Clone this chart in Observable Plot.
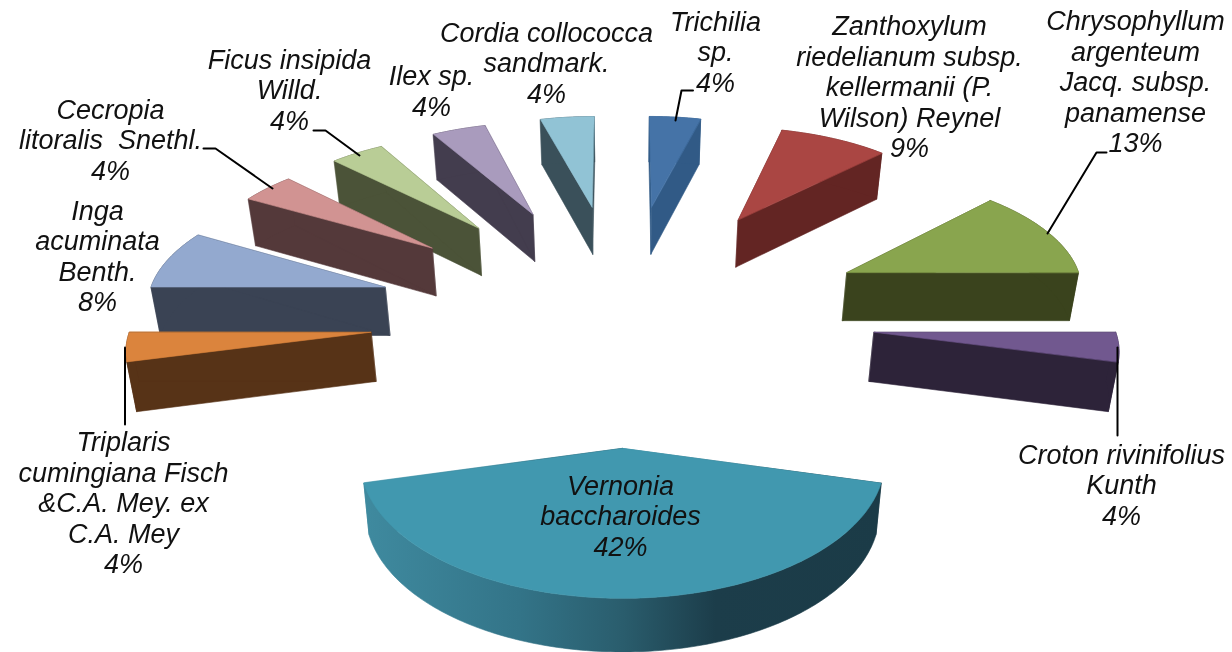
<!DOCTYPE html>
<html>
<head>
<meta charset="utf-8">
<script src="https://cdn.jsdelivr.net/npm/d3@7"></script>
<script src="https://cdn.jsdelivr.net/npm/@observablehq/plot@0.6"></script>
<style>html,body{margin:0;padding:0;background:#fff}svg{display:block;filter:blur(0.4px)}</style>
</head>
<body>
<div id="chart"></div>
<script>
const names = [
  "Trichilia\nsp.",
  "Zanthoxylum\nriedelianum subsp.\nkellermanii (P.\nWilson) Reynel",
  "Chrysophyllum\nargenteum\nJacq. subsp.\npanamense",
  "Croton rivinifolius\nKunth",
  "Vernonia\nbaccharoides",
  "Triplaris\ncumingiana Fisch\n&C.A. Mey. ex\nC.A. Mey",
  "Inga\nacuminata\nBenth.",
  "Cecropia\nlitoralis  Snethl.",
  "Ficus insipida\nWilld.",
  "Ilex sp.",
  "Cordia collococca\nsandmark."
];
const shares = [4, 8.5, 12.5, 4, 42, 4, 8.2, 4.2, 4.2, 4.2, 4.2];
const topColors = ["#4573a7","#aa4643","#89a54e","#71588f","#4198af","#db843d","#93a9cf","#d19392","#b9cd96","#a99bbd","#91c3d5"];
const sideColors = ["#315a86","#632523","#3a431d","#2d2339","url(#vernoniaSide)","#573317","#3a4354","#54393a","#4b5338","#433d4e","#3a505a"];

// Label and leader placement (layout, not data)
const labelX = [715, 909, 1135, 1121, 620, 123, 97, 110, 289, 431, 546];
const labelY = [51, 86, 81, 484, 515, 502, 255, 139, 89, 90, 62];
const leaders = [
  [[692.5,90],[681,90],[675,120]],
  [[1106,152],[1096,152],[1047,233]],
  [[1117,347],[1117,435]],
  [[124.5,347],[124.5,424]],
  [[203,148],[215,148],[272,188]],
  [[313,130],[325,130],[359,155]]
];

// Exploded, perspective-projected pie
const view = {cx: 622, cy: 316.5, A: 251, B: 120.2, k: 0.085, radius: 0.952, depth: 49, shrink: 0.98};
const scaleAt = Y => 1 / (1 + view.k * Y);
const project = (X, Y) => {
  const s = scaleAt(Y);
  return {x: view.cx + view.A * X * s, y: view.cy - view.B * Y * s, s};
};
const lower = p => ({
  x: view.cx + (p.x - view.cx) * view.shrink,
  y: p.y + view.depth * Math.pow(p.s, 0.5)
});
const total = d3.sum(shares);
const rad = d => d * Math.PI / 180;
let acc = 0;
const slices = shares.map((v, i) => {
  const a0 = acc / total * 360; acc += v;
  const a1 = acc / total * 360;
  const mid = (a0 + a1) / 2;
  const ex = Math.sin(rad(mid)), ey = Math.cos(rad(mid));
  const apex = project(ex, ey);
  const rim = d3.range(0, Math.ceil(a1 - a0) + 1).map(t => {
    const a = Math.min(a0 + t, a1);
    return project(ex + view.radius * Math.sin(rad(a)), ey + view.radius * Math.cos(rad(a)));
  });
  return {i, ey, apex, rim};
});

const polygon = (pts, fill, key) => pts.map(p => ({x: p.x, y: p.y, fill, key}));
const marks = [];
marks.push(() => {
  const ns = "http://www.w3.org/2000/svg";
  const defs = document.createElementNS(ns, "defs");
  const g = document.createElementNS(ns, "linearGradient");
  g.setAttribute("id", "vernoniaSide");
  g.setAttribute("x1", "0"); g.setAttribute("x2", "1");
  [["0", "#3f8a9f"], ["0.3", "#337488"], ["0.5", "#2a5d6d"], ["0.68", "#1c3d4a"], ["1", "#1b3b47"]].forEach(([o, c]) => {
    const s = document.createElementNS(ns, "stop");
    s.setAttribute("offset", o); s.setAttribute("stop-color", c);
    g.appendChild(s);
  });
  defs.appendChild(g);
  return defs;
});

// Painter's order: far wedges first
d3.sort(slices, d => -d.ey).forEach(({i, apex, rim}) => {
  const first = rim[0], last = rim[rim.length - 1];
  const faces = [
    polygon([apex, first, lower(first), lower(apex)], sideColors[i], "a"),
    polygon([apex, last, lower(last), lower(apex)], sideColors[i], "b"),
    polygon([...rim, ...rim.map(lower).reverse()], sideColors[i], "c"),
    polygon([apex, ...rim], topColors[i], "t")
  ];
  faces.forEach(f => {
    const color = f[0].fill;
    marks.push(Plot.line(f, {x: "x", y: "y", fill: color, stroke: color, strokeWidth: 0.6, curve: "linear-closed"}));
  });
});

leaders.forEach(pts => {
  marks.push(Plot.line(pts, {x: d => d[0], y: d => d[1], stroke: "#000", strokeWidth: 2, curve: "linear"}));
});

const labels = names.map((n, i) => ({
  text: n + "\n" + Math.round(shares[i]) + "%",
  x: labelX[i], y: labelY[i]
}));
marks.push(Plot.text(labels, {
  x: "x", y: "y", text: "text",
  fontFamily: "Liberation Sans", fontStyle: "italic", fontSize: 27,
  lineHeight: 1.13, textAnchor: "middle", fill: "#111"
}));

const chart = Plot.plot({
  width: 1232, height: 652,
  margin: 0, marginTop: 0, marginRight: 0, marginBottom: 0, marginLeft: 0,
  x: {domain: [0, 1232], range: [0, 1232], axis: null},
  y: {domain: [0, 652], range: [0, 652], axis: null},
  style: {background: "#fff"},
  marks
});
document.getElementById("chart").appendChild(chart);
</script>
</body>
</html>
